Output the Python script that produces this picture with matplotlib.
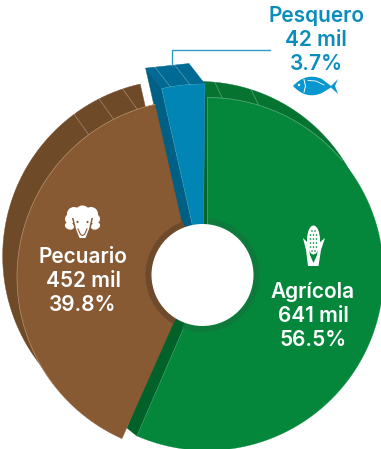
import numpy as np
import matplotlib
matplotlib.use("Agg")
import matplotlib.pyplot as plt
from matplotlib.patches import Wedge, Circle, Polygon, Ellipse, PathPatch
from matplotlib.path import Path

# datos
sectores = ["Agrícola", "Pesquero", "Pecuario"]
miles = ["641 mil", "42 mil", "452 mil"]
porcentajes = [56.5, 3.7, 39.8]

W, H = 381, 449
GREEN, GREEN_SIDE, GREEN_BACK = "#04873b", "#006129", "#067331"
BROWN, BROWN_BACK = "#875a33", "#6f4a29"
BLUE, BLUE_SIDE, BLUE_TOP = "#0085b5", "#005f85", "#006a94"
TITLE_BLUE = "#0a8dbb"
LINE = "#ffffff"

plt.rcParams['font.family'] = ['Inter', 'DejaVu Sans']

fig = plt.figure(figsize=(W / 100, H / 100), dpi=100)
ax = fig.add_axes([0, 0, 1, 1])
ax.set_xlim(0, W)
ax.set_ylim(H, 0)   # eje en pixeles, y hacia abajo
ax.axis("off")

# angulos acumulados (en pantalla, antihorario desde +x)
GIRO = -0.6  # el pesquero y el pecuario van un poco girados en el original
start = 90 - 360 * porcentajes[0] / 100
a_agri = (start, 90)
a_pesq = (90 + GIRO, 90 + GIRO + 3.6 * porcentajes[1])
a_pecu = (a_pesq[1], a_pesq[1] + 3.6 * porcentajes[2])


def punto(c, r, ang):
    return (c[0] + r * np.cos(np.radians(ang)), c[1] - r * np.sin(np.radians(ang)))


def sector(c, r, a0, a1, n=120):
    t = np.linspace(a0, a1, n)
    return [c] + [punto(c, r, x) for x in t]


def marcas(c, r, angulos, off, z):
    for a in angulos:
        p = punto(c, r, a)
        ax.plot([p[0], p[0] + off[0]], [p[1], p[1] + off[1]], color=LINE, lw=0.5, alpha=0.35, zorder=z)


def arco(c, r, a0, a1, color, z):
    pts = np.array([punto(c, r, x) for x in np.linspace(a0, a1, 80)])
    ax.plot(pts[:, 0], pts[:, 1], color=color, lw=0.5, zorder=z)


# --- Agricola
c_g, r_g, off_g = (207, 274), 176.5, (-8, -21)
c_g2 = (c_g[0] + off_g[0], c_g[1] + off_g[1])
ax.add_patch(Polygon(sector(c_g2, r_g - 5, a_agri[0] + 40, a_agri[1]), closed=True, fc=GREEN_BACK, ec=GREEN_BACK, lw=0.3, zorder=1))
p0, p1 = punto(c_g, r_g, a_agri[1]), punto(c_g, r_g, a_agri[0])
back_top = punto(c_g2, r_g - 5, a_agri[1])
ax.add_patch(Polygon([p0, back_top, c_g2, (c_g[0] - 14, c_g[1] - 9),
                      (p1[0] - 10, p1[1] - 8), p1, c_g], closed=True, fc=GREEN_SIDE, ec=GREEN_SIDE, lw=0.3, zorder=2))
marcas(c_g, r_g, [85, 73], (-9, -19), 2.5)

# --- Pecuario, banda trasera
c_b, r_b, off_b = (194, 277), 177, (-15, -21)
c_b2 = (c_b[0] + off_b[0], c_b[1] + off_b[1])
ax.add_patch(Polygon(sector(c_b2, r_b - 0.7, a_pecu[0], a_pecu[1] - 20), closed=True, fc=BROWN_BACK, ec=BROWN_BACK, lw=0.3, zorder=3))
marcas(c_b, r_b, [126.5, 117, 108.7], off_b, 3.5)

# --- Pesquero
c_p, r_p, off_p = (203, 272), 188, (-16, -20.5)
pa, pb = punto(c_p, r_p, a_pesq[0]), punto(c_p, r_p, a_pesq[1])
pa2, pb2 = (pa[0] + off_p[0], pa[1] + off_p[1]), (pb[0] + off_p[0], pb[1] + off_p[1])
ax.add_patch(Polygon(sector(c_p, r_p, *a_pesq)[1:] + [pb2, pa2], closed=True, fc=BLUE_TOP, ec=BLUE_TOP, lw=0.3, zorder=4))
ax.add_patch(Polygon([pb2, pb, c_p, (c_p[0] + off_p[0], c_p[1] + off_p[1])], closed=True, fc=BLUE_SIDE, ec=BLUE_SIDE, lw=0.3, zorder=4.2))
ax.add_patch(Polygon(sector(c_p, r_p, *a_pesq), closed=True, fc=BLUE, ec="#3fa3c8", lw=0.3, zorder=4.5))
marcas(c_p, r_p, [94, 100], off_p, 4.6)

# --- caras frontales
ax.add_patch(Polygon(sector(c_g, r_g, *a_agri), closed=True, fc=GREEN, ec=GREEN, lw=0.2, zorder=5))
arco(c_g, r_g, a_agri[1], 40, "#5fae80", 5.1)
ax.plot([p0[0], c_g[0]], [p0[1], c_g[1]], color="#5fae80", lw=0.4, zorder=5.1)
ax.plot([p1[0], c_g[0]], [p1[1], c_g[1]], color="#3f9f68", lw=0.4, zorder=5.1)
ax.add_patch(Polygon(sector(c_b, r_b, *a_pecu), closed=True, fc=BROWN, ec=BROWN, lw=0.2, zorder=6))
arco(c_b, r_b, a_pecu[0], 218, "#b4946f", 6.1)

# --- aro y hueco central (eje invertido: angulos en negativo)
c_h = (202.5, 275)
ax.add_patch(Wedge(c_h, 57, -84, 111, width=6, fc="#0d7a3c", ec="none", zorder=7))
ax.add_patch(Wedge(c_h, 57, 121, 250, width=6, fc="#6e4a2c", ec="none", zorder=7.1))
ax.add_patch(Circle(c_h, 51, fc="white", ec="none", zorder=8))

# --- linea guia
ax.plot([171.5, 171.5, 269.5], [65, 50, 50], color="#2e9cc4", lw=1, zorder=9, solid_joinstyle="miter")

# --- textos
font = dict(ha="center", va="baseline", fontsize=15, fontweight="semibold", zorder=10)
ax.text(316, 22, sectores[1], color=TITLE_BLUE, **font)
ax.text(316, 46, miles[1], color=TITLE_BLUE, **font)
ax.text(316, 70, f"{porcentajes[1]}%", color=TITLE_BLUE, **font)

ax.text(83, 263, sectores[2], color="white", **font)
ax.text(83, 287, miles[2], color="white", **font)
ax.text(83, 311, f"{porcentajes[2]}%", color="white", **font)

ax.text(313, 298, sectores[0], color="white", **font)
ax.text(313, 322, miles[0], color="white", **font)
ax.text(313, 346, f"{porcentajes[0]}%", color="white", **font)

# --- iconos
# pez
ax.add_patch(PathPatch(Path([(293, 86), (306, 72), (322, 79), (331, 86), (338, 79), (335, 86),
                             (338, 94), (331, 87.5), (322, 93), (306, 100), (293, 86)],
                            [1, 3, 3, 2, 2, 2, 2, 2, 2, 3, 3]), fc="#0a97cf", ec="none", zorder=10))
ax.add_patch(Circle((299, 85), 1.2, fc="white", ec="none", zorder=11))
ax.plot([304, 305.5, 304], [79.5, 86, 92], color="white", lw=0.7, zorder=11)
ax.plot([308, 316, 324], [80.5, 81, 85], color="white", lw=0.6, zorder=11)

# oveja
for x, y, r in [(82.5, 213, 7.5), (74, 214, 7), (91, 214, 7), (70, 219, 5), (95, 219, 5)]:
    ax.add_patch(Circle((x, y), r, fc="white", ec="none", zorder=10))
ax.add_patch(Ellipse((69.5, 226), 9.5, 7, angle=20, fc="white", ec="none", zorder=10))
ax.add_patch(Ellipse((95.5, 226), 9.5, 7, angle=-20, fc="white", ec="none", zorder=10))
ax.add_patch(Polygon([(72, 218), (93, 218), (90.5, 229), (87, 237), (78, 237), (74.5, 229)], closed=True, fc=BROWN, ec="none", zorder=10.5))
ax.add_patch(Polygon([(73.5, 218), (91.5, 218), (89, 229), (85.5, 238), (79.5, 238), (76, 229)], closed=True, fc="white", ec="none", zorder=11))
ax.add_patch(Circle((77.5, 222), 1.1, fc=BROWN, ec="none", zorder=12))
ax.add_patch(Circle((87.5, 222), 1.1, fc=BROWN, ec="none", zorder=12))
ax.plot([78, 80.5, 82.5, 84.5, 87], [229, 234.5, 235.5, 234.5, 229], color=BROWN, lw=0.8, zorder=12)

# maiz
ax.add_patch(Ellipse((313.5, 240), 13, 29, fc="white", ec="none", zorder=10))
ax.add_patch(Polygon([(303, 238), (308, 243), (310, 255), (313.5, 263), (317, 255), (319, 243), (325, 238),
                      (321, 250), (318.5, 266), (308, 266), (306, 250)], closed=True, fc="white", ec="none", zorder=10))
for fila, y in enumerate(range(231, 256, 4)):
    for x in (311, 314, 317) if 1 <= fila <= 4 else (312.5, 315.5):
        ax.add_patch(Circle((x - 0.5, y), 0.8, fc=GREEN, ec="none", zorder=11))

fig.savefig("out.png", dpi=100)
